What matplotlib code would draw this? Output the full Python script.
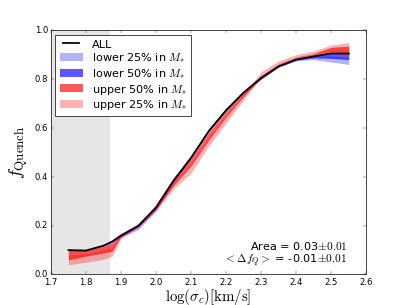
import matplotlib

matplotlib.use("Agg")

import matplotlib.pyplot as plt
from matplotlib.ticker import MultipleLocator

# log(sigma_c) grid
x = [1.75, 1.80, 1.85, 1.875, 1.90, 1.95, 2.00, 2.05, 2.10, 2.15, 2.20, 2.25,
     2.30, 2.35, 2.40, 2.45, 2.50, 2.55]

f_all = [0.100, 0.098, 0.118, 0.135, 0.160, 0.200, 0.275, 0.385, 0.478, 0.585,
         0.672, 0.745, 0.805, 0.852, 0.880, 0.893, 0.905, 0.905]

lower25_lo = [0.095, 0.096, 0.115, 0.130, 0.150, 0.185, 0.260, 0.375, 0.475, 0.585,
              0.670, 0.745, 0.800, 0.850, 0.875, 0.880, 0.870, 0.860]
lower25_hi = [0.102, 0.101, 0.120, 0.137, 0.160, 0.200, 0.272, 0.385, 0.485, 0.595,
              0.680, 0.752, 0.805, 0.855, 0.880, 0.893, 0.895, 0.890]

lower50_lo = [0.097, 0.097, 0.117, 0.133, 0.155, 0.195, 0.268, 0.380, 0.475, 0.585,
              0.670, 0.745, 0.800, 0.850, 0.877, 0.887, 0.885, 0.880]
lower50_hi = [0.102, 0.100, 0.121, 0.138, 0.162, 0.202, 0.277, 0.390, 0.487, 0.598,
              0.682, 0.752, 0.806, 0.853, 0.881, 0.894, 0.906, 0.906]

upper50_lo = [0.060, 0.075, 0.088, 0.095, 0.155, 0.198, 0.268, 0.365, 0.445, 0.550,
              0.645, 0.730, 0.805, 0.852, 0.882, 0.897, 0.905, 0.900]
upper50_hi = [0.100, 0.098, 0.115, 0.130, 0.160, 0.205, 0.278, 0.383, 0.475, 0.580,
              0.668, 0.745, 0.815, 0.862, 0.890, 0.905, 0.930, 0.935]

upper25_lo = [0.040, 0.050, 0.062, 0.075, 0.150, 0.195, 0.262, 0.350, 0.415, 0.525,
              0.620, 0.715, 0.810, 0.860, 0.888, 0.905, 0.915, 0.910]
upper25_hi = [0.080, 0.085, 0.100, 0.110, 0.160, 0.210, 0.275, 0.375, 0.455, 0.560,
              0.650, 0.740, 0.830, 0.875, 0.900, 0.915, 0.940, 0.950]

SIGMA_CUT = 1.87


def main():
    plt.style.use("classic")
    dpi = 407 / 8.0
    fig = plt.figure(figsize=(8, 6), dpi=dpi, facecolor="white")
    ax = fig.add_subplot(111)

    ax.axvspan(1.7, SIGMA_CUT, color="0.9", lw=0, zorder=0)

    ax.fill_between(x, lower25_lo, lower25_hi, color="blue", alpha=0.3, lw=0,
                    label=r"lower 25% in $M_{*}$")
    ax.fill_between(x, lower50_lo, lower50_hi, color="blue", alpha=0.65, lw=0,
                    label=r"lower 50% in $M_{*}$")
    ax.fill_between(x, upper50_lo, upper50_hi, color="red", alpha=0.65, lw=0,
                    label=r"upper 50% in $M_{*}$")
    ax.fill_between(x, upper25_lo, upper25_hi, color="red", alpha=0.3, lw=0,
                    label=r"upper 25% in $M_{*}$")
    ax.plot(x, f_all, color="black", lw=2.5, label="ALL")

    handles, labels = ax.get_legend_handles_labels()
    order = [4, 0, 1, 2, 3]
    ax.legend([handles[i] for i in order], [labels[i] for i in order],
              loc="upper left", fontsize=16, labelspacing=0.15,
              borderaxespad=0.4, handletextpad=0.8)

    ax.text(0.94, 0.118, r"Area = 0.03$\pm0.01$", transform=ax.transAxes,
            ha="right", va="center", fontsize=16)
    ax.text(0.94, 0.058, r"$<\Delta f_Q>$ = -0.01$\pm0.01$", transform=ax.transAxes,
            ha="right", va="center", fontsize=16)

    ax.set_xlim(1.7, 2.6)
    ax.set_ylim(0.0, 1.0)
    ax.xaxis.set_major_locator(MultipleLocator(0.1))
    ax.yaxis.set_major_locator(MultipleLocator(0.2))
    ax.tick_params(labelsize=12)
    ax.set_xlabel(r"$\log(\sigma_c) [\rm km/s]$", fontsize=21, labelpad=0)
    ax.set_ylabel(r"$f_{\rm Quench}$", fontsize=26)

    fig.subplots_adjust(left=0.125, right=0.9, bottom=0.1, top=0.9)
    fig.savefig("out.png", dpi=dpi, facecolor="white")


if __name__ == "__main__":
    main()
